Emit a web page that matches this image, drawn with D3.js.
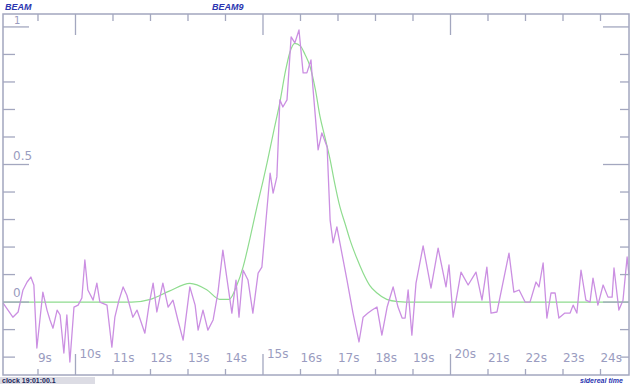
<!DOCTYPE html>
<html>
<head>
<meta charset="utf-8">
<script src="https://cdn.jsdelivr.net/npm/d3@7"></script>
<style>
  html, body { margin: 0; padding: 0; background: #fff; }
  svg { display: block; }
  .tick-label { font-family: "DejaVu Sans", sans-serif; font-size: 12px; fill: #9a9cc0; }
  .beam { font-family: "Liberation Sans", Arial, sans-serif; font-size: 9px; font-weight: bold; font-style: italic; fill: #2a35b0; }
</style>
</head>
<body>
<svg id="chart" width="634" height="384"></svg>
<script>
// measured beam signal (seconds, normalised power)
const signalTime = [8.07, 8.2, 8.33, 8.47, 8.6, 8.71, 8.81, 8.89, 8.97, 9.13, 9.24, 9.32, 9.4, 9.51, 9.59, 9.69, 9.77, 9.85, 9.96,
  10.07, 10.17, 10.25, 10.33, 10.47, 10.57, 10.65, 10.84, 10.97, 11.05, 11.16, 11.27, 11.37, 11.53, 11.64, 11.85, 11.96,
  12.07, 12.17, 12.33, 12.47, 12.6, 12.73, 12.87, 13.05, 13.19, 13.27, 13.4, 13.53, 13.67, 13.8, 13.93,
  14.07, 14.17, 14.28, 14.36, 14.47, 14.6, 14.73, 14.87, 14.97, 15.05, 15.19, 15.27, 15.37, 15.45, 15.53, 15.64, 15.75, 15.85, 15.96,
  16.07, 16.17, 16.28, 16.33, 16.47, 16.57, 16.71, 16.79, 16.87, 16.97, 17.24, 17.4, 17.56, 17.67, 17.8, 17.91,
  18.04, 18.17, 18.31, 18.47, 18.6, 18.71, 18.79, 18.87, 18.97, 19.08, 19.27, 19.48, 19.67, 19.88, 19.96,
  20.07, 20.28, 20.47, 20.68, 20.84, 20.97, 21.08, 21.24, 21.56, 21.69, 21.83, 21.99, 22.12, 22.28, 22.36, 22.47, 22.57, 22.68, 22.79, 22.89,
  23.05, 23.19, 23.27, 23.37, 23.48, 23.61, 23.72, 23.8, 23.93, 24.07, 24.2, 24.31, 24.36, 24.49, 24.6, 24.71, 24.76];
const signalValue = [-0.004, -0.029, -0.055, -0.036, 0.044, 0.073, 0.091, 0.062, -0.167, 0.036, -0.029, -0.065, -0.095, -0.029, -0.047, -0.185, -0.047, -0.218, -0.018,
  -0.011, 0.015, 0.153, 0.044, 0.007, 0.069, 0, -0.011, -0.164, -0.055, 0.007, 0.055, 0.025, -0.055, -0.029, -0.113, -0.011,
  0.069, -0.036, 0.069, -0.018, 0.007, -0.065, -0.138, 0.055, -0.011, -0.102, -0.029, -0.102, -0.065, 0.036, 0.189,
  0.055, -0.04, 0.08, -0.055, 0.116, 0.08, -0.04, 0.105, 0.127, 0.251, 0.469, 0.396, 0.455, 0.735, 0.709, 0.735, 0.964, 0.942, 0.989,
  0.833, 0.833, 0.88, 0.782, 0.553, 0.615, 0.564, 0.298, 0.215, 0.273, 0.08, -0.04, -0.145, -0.055, -0.04, -0.029,
  -0.018, -0.12, -0.018, 0.055, -0.018, -0.058, -0.058, 0.044, -0.12, 0.069, 0.204, 0.051, 0.196, 0.055, 0.135,
  -0.055, 0.109, 0.062, 0.109, 0.007, 0.127, -0.04, -0.036, 0.178, 0.036, 0.044, 0, 0, 0.073, 0.055, 0.142, -0.058, 0.033, 0.033, -0.058,
  -0.04, -0.04, -0.011, -0.04, 0.116, 0.007, 0, 0.087, -0.011, 0.062, 0.018, 0.018, 0.124, -0.029, 0.007, 0.164, 0.098];

// fitted beam model
const modelTime = [8.07, 9, 10, 11, 11.5, 12.0, 12.5, 13.05, 13.5, 13.85, 14.1, 14.3, 14.47, 14.65, 14.84, 15.0, 15.11, 15.3, 15.45, 15.6, 15.72, 15.85,
  16.0, 16.12, 16.25, 16.4, 16.52, 16.65, 16.79, 16.9, 17.05, 17.2, 17.32, 17.5, 17.67, 17.85, 18.04, 18.3, 18.6, 19, 20, 22, 24.76];
const modelValue = [0, 0, 0, 0, 0, 0.01, 0.04, 0.068, 0.045, 0.01, 0.01, 0.06, 0.128, 0.23, 0.347, 0.44, 0.507, 0.63, 0.726, 0.84, 0.909, 0.94,
  0.93, 0.9, 0.858, 0.77, 0.675, 0.6, 0.518, 0.44, 0.347, 0.28, 0.226, 0.16, 0.106, 0.06, 0.033, 0.01, 0.002, 0, 0, 0, 0];

const xTicks = d3.range(9, 25);
const xMajor = [10, 15, 20];
const yTicks = d3.range(-2, 11).map(d => d / 10);
const yLabels = [0, 0.5, 1];

const svg = d3.select('#chart');
const x = d3.scaleLinear().domain([8.067, 24.76]).range([3, 629]);
const y = d3.scaleLinear().domain([-0.265, 1.047]).range([375, 14]);
const axisColor = '#a3a7bf';

const signal = signalTime.map((t, i) => [t, signalValue[i]]);
const model = modelTime.map((t, i) => [t, modelValue[i]]);

const line = d3.line().x(d => x(d[0])).y(d => y(d[1]));

svg.append('path')
  .datum(model)
  .attr('fill', 'none')
  .attr('stroke', '#8fdc8f')
  .attr('stroke-width', 1.2)
  .attr('d', line.curve(d3.curveMonotoneX));

svg.append('path')
  .datum(signal)
  .attr('fill', 'none')
  .attr('stroke', '#cb8fe2')
  .attr('stroke-width', 1.3)
  .attr('stroke-linejoin', 'round')
  .attr('d', line.curve(d3.curveLinear));

// frame
svg.append('rect')
  .attr('x', x.range()[0]).attr('y', y.range()[1])
  .attr('width', x.range()[1] - x.range()[0])
  .attr('height', y.range()[0] - y.range()[1])
  .attr('fill', 'none').attr('stroke', axisColor).attr('stroke-width', 1.5);

const isMajorX = t => xMajor.includes(t);
const isMajorY = v => yLabels.some(l => Math.abs(l - v) < 1e-9);

// top & bottom ticks
svg.append('g').selectAll('line').data(xTicks).join('line')
  .attr('x1', d => x(d)).attr('x2', d => x(d))
  .attr('y1', y.range()[1]).attr('y2', d => y.range()[1] + (isMajorX(d) ? 21 : 7))
  .attr('stroke', axisColor).attr('stroke-width', 1.3);
svg.append('g').selectAll('line').data(xTicks).join('line')
  .attr('x1', d => x(d)).attr('x2', d => x(d))
  .attr('y1', y.range()[0]).attr('y2', d => y.range()[0] - (isMajorX(d) ? 21 : 6))
  .attr('stroke', axisColor).attr('stroke-width', 1.3);

// left & right ticks
svg.append('g').selectAll('line').data(yTicks).join('line')
  .attr('x1', x.range()[0]).attr('x2', d => x.range()[0] + (isMajorY(d) ? 26 : 12))
  .attr('y1', d => y(d)).attr('y2', d => y(d))
  .attr('stroke', axisColor).attr('stroke-width', 1.3);
svg.append('g').selectAll('line').data(yTicks).join('line')
  .attr('x1', x.range()[1]).attr('x2', d => x.range()[1] - (isMajorY(d) ? 26 : 9))
  .attr('y1', d => y(d)).attr('y2', d => y(d))
  .attr('stroke', axisColor).attr('stroke-width', 1.3);

// x labels
svg.append('g').selectAll('text').data(xTicks).join('text')
  .attr('class', 'tick-label')
  .attr('x', d => x(d) + (isMajorX(d) ? 4 : 0))
  .attr('y', d => isMajorX(d) ? 358 : 362)
  .text(d => d + 's');

// y labels
svg.append('g').selectAll('text').data(yLabels).join('text')
  .attr('class', 'tick-label')
  .attr('x', d => d === 1 ? 14 : 13)
  .attr('y', d => d === 1 ? y(d) - 3 : y(d) - 5)
  .style('font-size', d => d === 1 ? '10px' : null)
  .text(d => d);

// header / footer
svg.append('text').attr('class', 'beam').attr('x', 5).attr('y', 10).text('BEAM');
svg.append('text').attr('class', 'beam').attr('x', 212).attr('y', 10).text('BEAM9');

svg.append('rect').attr('x', 0).attr('y', 377).attr('width', 95).attr('height', 7).attr('fill', '#dcdce4');
svg.append('text').attr('class', 'beam').style('font-style', 'normal').style('fill', '#1a1f5a').style('font-size', '7px')
  .attr('x', 2).attr('y', 383).text('clock 19:01:00.1');
svg.append('text').attr('class', 'beam').style('font-size', '7px')
  .attr('x', 580).attr('y', 383).text('sidereal time');
</script>
</body>
</html>
